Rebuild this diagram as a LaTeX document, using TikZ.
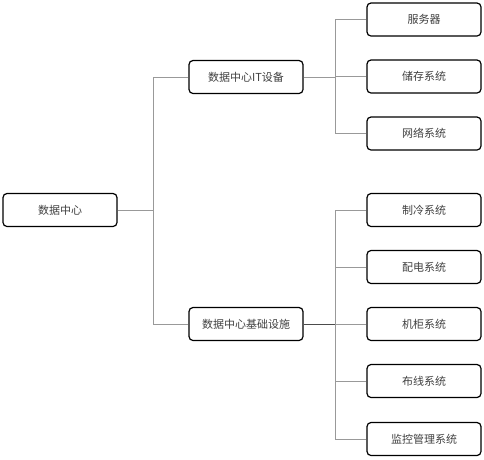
\documentclass[tikz,border=0pt]{standalone}
\usepackage{fontspec}
\newfontfamily\cjk{Noto Sans CJK SC}
\begin{document}
\begin{tikzpicture}[x=1pt,y=-1pt,
  box/.style={draw=black,line width=1.2pt,rounded corners=4pt,minimum width=114pt,minimum height=33pt,inner sep=0pt,font=\cjk\fontsize{11}{13}\selectfont,text=black!75,fill=white},
  conn/.style={draw=black!40,line width=0.9pt},
  conndark/.style={draw=black!70,line width=0.9pt}]
\useasboundingbox (0,0) rectangle (484,459);
\node[box] (root) at (60,210) {数据中心};
\node[box] (it) at (246,77) {数据中心IT设备};
\node[box] (inf) at (246,324) {数据中心基础设施};
\node[box] (l1) at (424,19.5) {服务器};
\node[box] (l2) at (424,76.5) {储存系统};
\node[box] (l3) at (424,133.5) {网络系统};
\node[box] (m1) at (424,210) {制冷系统};
\node[box] (m2) at (424,267) {配电系统};
\node[box] (m3) at (424,324) {机柜系统};
\node[box] (m4) at (424,381) {布线系统};
\node[box] (m5) at (424,439) {监控管理系统};
\coordinate (j0) at (153,210);
\coordinate (j1) at (335,77);
\coordinate (j2) at (335,324);
\begin{scope}[on background layer/.try]
\draw[conn] (root.east) -- (j0);
\draw[conn] (j0 |- it.west) -- (j0 |- inf.west);
\draw[conn] (j0 |- it.west) -- (it.west);
\draw[conn] (j0 |- inf.west) -- (inf.west);
\draw[conn] (it.east) -- (j1);
\draw[conn] (j1 |- l1.west) -- (j1 |- l3.west);
\foreach \n in {l1,l2,l3} \draw[conn] (j1 |- \n.west) -- (\n.west);
\draw[conndark] (inf.east) -- (j2);
\draw[conn] (j2 |- m1.west) -- (j2 |- m5.west);
\foreach \n in {m1,m2,m3,m4,m5} \draw[conn] (j2 |- \n.west) -- (\n.west);
\end{scope}
\end{tikzpicture}
\end{document}
